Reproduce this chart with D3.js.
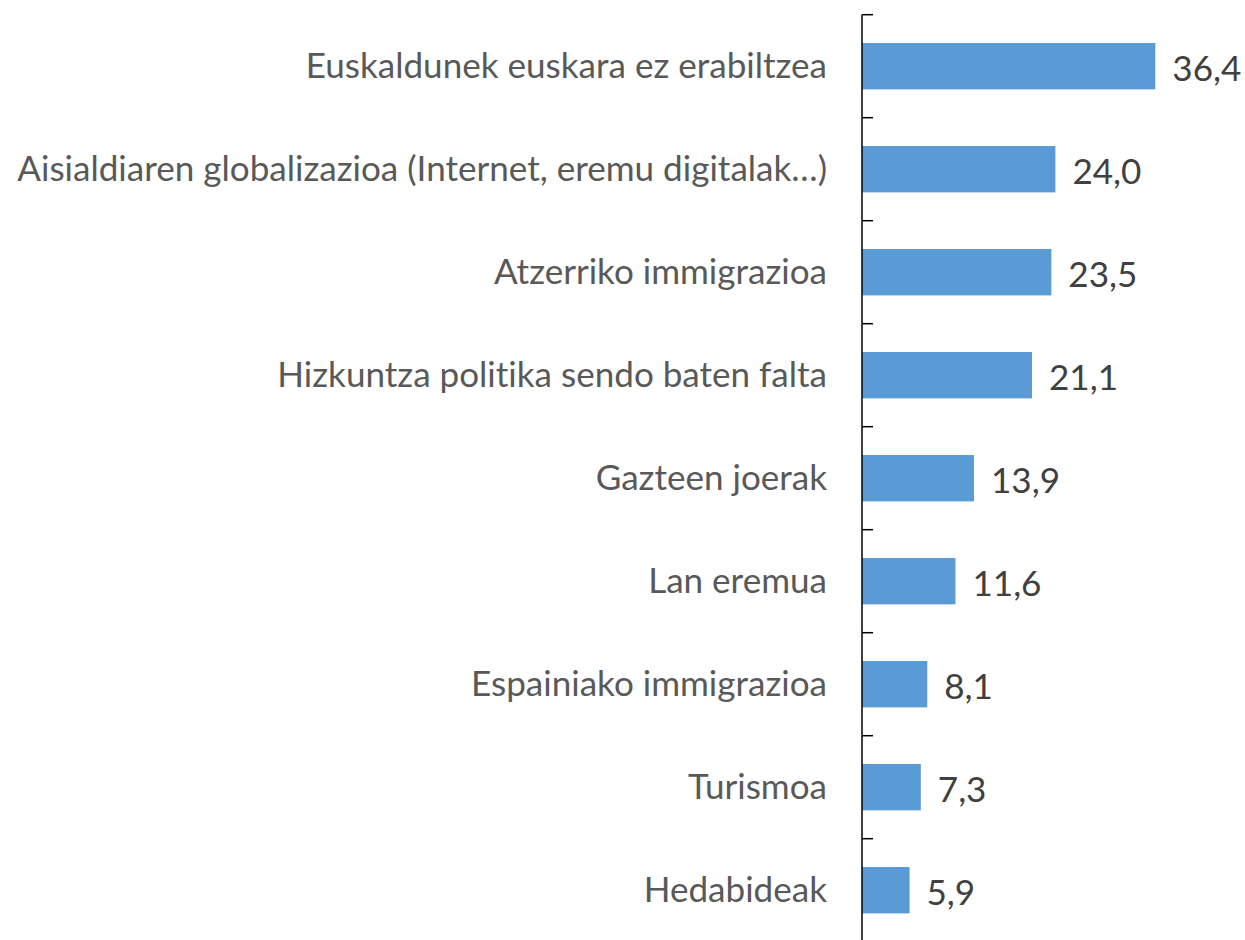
<!DOCTYPE html>
<html>
<head>
<meta charset="utf-8">
<script src="https://cdn.jsdelivr.net/npm/d3@7"></script>
<style>
  html, body { margin: 0; padding: 0; background: #fff; }
  svg { display: block; }
  text { font-variant-ligatures: none; font-feature-settings: "liga" 0, "clig" 0; }
</style>
</head>
<body>
<svg id="chart" width="1245" height="940"></svg>
<script>
const categories = [
  "Euskaldunek euskara ez erabiltzea",
  "Aisialdiaren globalizazioa (Internet, eremu digitalak…)",
  "Atzerriko immigrazioa",
  "Hizkuntza politika sendo baten falta",
  "Gazteen joerak",
  "Lan eremua",
  "Espainiako immigrazioa",
  "Turismoa",
  "Hedabideak"
];
const values = [36.4, 24.0, 23.5, 21.1, 13.9, 11.6, 8.1, 7.3, 5.9];

const svg = d3.select("#chart");
const fontFamily = "Lato, 'Open Sans', sans-serif";

const axisX = 862;
const y = d3.scaleBand()
  .domain(categories)
  .range([14.7, 941.7])
  .paddingInner(0.55)
  .paddingOuter(0.275);

const x = d3.scaleLinear().domain([0, 40]).range([axisX, axisX + 40 * 8.058]);

const locale = d3.formatLocale({ decimal: ",", thousands: ".", grouping: [3], currency: ["", "€"] });
const fmt = locale.format(".1f");

// fit font size to the longest label width
const probe = svg.append("text").attr("font-family", fontFamily).attr("font-size", 100)
  .text(categories[1]);
const w100 = probe.node().getComputedTextLength();
probe.remove();
const fontSize = 100 * 810 / w100;

// bars
svg.append("g").selectAll("rect").data(values).join("rect")
  .attr("x", x(0))
  .attr("y", (d, i) => y(categories[i]))
  .attr("width", d => x(d) - x(0))
  .attr("height", y.bandwidth())
  .attr("fill", "#5B9BD5");

// axis line + boundary ticks between categories
const step = y.step();
const boundaries = d3.range(categories.length + 1).map(k => y.range()[0] + k * step);
const ax = svg.append("g");
ax.append("line")
  .attr("x1", axisX).attr("x2", axisX)
  .attr("y1", y.range()[0]).attr("y2", y.range()[1])
  .attr("stroke", "#000").attr("stroke-width", 1.5);
ax.selectAll("line.tick").data(boundaries).join("line")
  .attr("class", "tick")
  .attr("x1", axisX).attr("x2", axisX + 11)
  .attr("y1", d => d).attr("y2", d => d)
  .attr("stroke", "#000").attr("stroke-width", 1.5);

// category labels
svg.append("g").selectAll("text").data(categories).join("text")
  .attr("x", axisX - 35)
  .attr("y", d => y(d) + y.bandwidth() / 2)
  .attr("dy", "0.35em")
  .attr("text-anchor", "end")
  .attr("font-family", fontFamily)
  .attr("font-size", fontSize)
  .attr("fill", "#595959")
  .text(d => d);

// value labels
svg.append("g").selectAll("text").data(values).join("text")
  .attr("x", d => x(d) + 17)
  .attr("y", (d, i) => y(categories[i]) + y.bandwidth() / 2)
  .attr("dy", "0.42em")
  .attr("font-family", fontFamily)
  .attr("font-size", fontSize)
  .attr("fill", "#404040")
  .text(d => fmt(d));
</script>
</body>
</html>
